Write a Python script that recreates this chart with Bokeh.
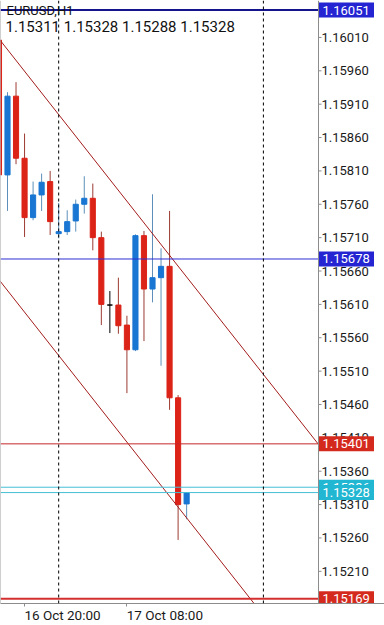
from bokeh.plotting import figure
from bokeh.models import Range1d, FixedTicker, Span, Label, ColumnDataSource
from bokeh.core.properties import value
from bokeh.embed import file_html
from bokeh.resources import INLINE

# ---------------- data ----------------
symbol = "EURUSD,H1"
bar_index = list(range(23))
opens  = [1.16006, 1.15804, 1.15922, 1.15829, 1.15740, 1.15774, 1.15794, 1.15716, 1.15719, 1.15735, 1.15760, 1.15769,
          1.15710, 1.15609, 1.15609, 1.15579, 1.15542, 1.15713, 1.15633, 1.15650, 1.15667, 1.15470, 1.15311]
highs  = [1.16018, 1.15928, 1.15943, 1.15866, 1.15794, 1.15806, 1.15810, 1.15762, 1.15751, 1.15767, 1.15802, 1.15791,
          1.15719, 1.15630, 1.15650, 1.15593, 1.15715, 1.15720, 1.15775, 1.15694, 1.15750, 1.15474, 1.15328]
lows   = [1.15796, 1.15750, 1.15820, 1.15711, 1.15736, 1.15750, 1.15714, 1.15709, 1.15714, 1.15719, 1.15746, 1.15691,
          1.15579, 1.15567, 1.15566, 1.15477, 1.15540, 1.15555, 1.15613, 1.15518, 1.15452, 1.15257, 1.15288]
closes = [1.15804, 1.15922, 1.15829, 1.15740, 1.15774, 1.15793, 1.15734, 1.15719, 1.15734, 1.15760, 1.15769, 1.15710,
          1.15610, 1.15609, 1.15578, 1.15542, 1.15713, 1.15633, 1.15650, 1.15667, 1.15470, 1.15310, 1.15328]

y_ticks = [1.15210, 1.15260, 1.15310, 1.15360, 1.15410, 1.15460, 1.15510, 1.15560, 1.15610,
           1.15660, 1.15710, 1.15760, 1.15810, 1.15860, 1.15910, 1.15960, 1.16010]
x_tick_index = [3, 15]
x_tick_labels = ["16 Oct 20:00", "17 Oct 08:00"]
day_separators = [7, 31]

level_prices = [1.16051, 1.15678, 1.15401, 1.15336, 1.15328, 1.15169]

trend_x = [0, 40]
trend_upper = [1.16008, 1.15359]
channel_width = 0.00361

# ---------------- styles ----------------
level_line_colors = ["#14148c", "#2e2ed6", "#c62828", "#45bfd4", "#45bfd4", "#d32f2f"]
level_line_widths = [2, 1, 1, 1, 1, 2]
tag_fill = ["#2424d2", "#2424d2", "#d42a1e", "#21b6d1", "#21b6d1", "#d42a1e"]
UP, DOWN, FLAT = "#1976d2", "#dc2318", "#000000"
UP_WICK, DOWN_WICK = "#5d8fba", "#9c3b32"
AXIS_GRAY = "#8c8c8c"
FONT = "Roboto"

# pixel helpers (frame geometry)
BAR_PX = 8.53
def ix(px):
    return 1 + (px - 7) / BAR_PX
def pr(py):
    return 1.16010 - (py - 37) * 0.00001496

W, H = 384, 625
BOTTOM = 21
SCALE_X = 318          # x pixel of the price scale line

p = figure(width=W, height=H, output_backend="svg", toolbar_location=None,
           x_range=Range1d(ix(0), ix(W)), y_range=Range1d(pr(H - BOTTOM), pr(0)),
           y_axis_location=None, min_border_left=0, min_border_right=0,
           min_border_top=0, min_border_bottom=BOTTOM)
p.xgrid.visible = False
p.ygrid.visible = False
p.outline_line_color = None
p.background_fill_color = "white"
p.border_fill_color = "white"

# candles
body_top = [max(o, c) for o, c in zip(opens, closes)]
body_bot = [min(o, c) for o, c in zip(opens, closes)]
body_col = [UP if c > o else (DOWN if c < o else FLAT) for o, c in zip(opens, closes)]
wick_col = [UP_WICK if c > o else (DOWN_WICK if c < o else FLAT) for o, c in zip(opens, closes)]
src = ColumnDataSource(dict(x=bar_index, top=body_top, bottom=body_bot, high=highs, low=lows,
                            col=body_col, wcol=wick_col))
p.segment(x0="x", y0="low", x1="x", y1="high", line_color="wcol", line_width=1, source=src)
p.vbar(x="x", width=0.6, top="top", bottom="bottom", fill_color="col", line_color="col",
       line_width=1, source=src)

# trend channel
p.line(trend_x, trend_upper, line_color="#a31c1c", line_width=1)
p.line(trend_x, [v - channel_width for v in trend_upper], line_color="#a31c1c", line_width=1)

# day separators
for d in day_separators:
    p.add_layout(Span(location=d, dimension="height", line_color="black", line_width=1, line_dash="3 3"))

# price levels (stop at the price scale)
x_left = ix(0)
x_scale = ix(SCALE_X)
lv_src = ColumnDataSource(dict(y=level_prices, c=level_line_colors, w=level_line_widths,
                               x0=[x_left] * len(level_prices), x1=[x_scale] * len(level_prices)))
p.segment(x0="x0", y0="y", x1="x1", y1="y", line_color="c", line_width="w", source=lv_src)

# price scale area on the right
y0r, y1r = p.y_range.start, p.y_range.end
p.quad(left=[x_scale], right=[ix(W + 5)], bottom=[y0r], top=[y1r], fill_color="white", line_color=None)
p.segment(x0=[x_scale], y0=[y0r], x1=[x_scale], y1=[y1r], line_color=AXIS_GRAY, line_width=1)
p.segment(x0=[x_left], y0=[y0r], x1=[x_left], y1=[y1r], line_color="#a0a0a0", line_width=1)
tick_src = ColumnDataSource(dict(y=y_ticks, x0=[x_scale] * len(y_ticks), x1=[ix(SCALE_X + 3)] * len(y_ticks),
                                 xt=[ix(SCALE_X + 3)] * len(y_ticks),
                                 lab=[f"{v:.5f}" for v in y_ticks]))
p.segment(x0="x0", y0="y", x1="x1", y1="y", line_color=AXIS_GRAY, line_width=1, source=tick_src)
p.text(x="xt", y="y", text="lab", text_font=value(FONT), text_font_size="13px", text_color="#1a1a1a",
       text_baseline="middle", text_align="left", source=tick_src)

# price tags on the scale (drawn one by one so later tags cover earlier ones)
for lv, tf in zip(level_prices, tag_fill):
    p.rect(x=[ix(SCALE_X + 28)], y=[lv], width=55, height=15, width_units="screen", height_units="screen",
           fill_color=tf, line_color=None)
    p.text(x=[ix(SCALE_X + 4)], y=[lv], text=[f"{lv:.5f}"], text_font=value(FONT), text_font_size="13px",
           text_color="white", text_baseline="middle", text_align="left")

# x axis
xa = p.xaxis[0]
label_off = 38 / BAR_PX
centers = [round(t + label_off, 2) for t in x_tick_index]
xa.ticker = FixedTicker(ticks=centers, minor_ticks=x_tick_index)
xa.major_label_overrides = {c: s for c, s in zip(centers, x_tick_labels)}
xa.axis_line_color = AXIS_GRAY
xa.major_tick_line_color = None
xa.major_tick_in = 0
xa.major_tick_out = 0
xa.minor_tick_line_color = AXIS_GRAY
xa.minor_tick_in = 0
xa.minor_tick_out = 3
xa.major_label_standoff = 0
xa.major_label_text_font = FONT
xa.major_label_text_font_size = "13.5px"
xa.major_label_text_color = "#1a1a1a"

# header
p.add_layout(Label(x=ix(6), y=pr(10), text=symbol, text_font=FONT, text_font_size="13px",
                   text_color="#111111", text_baseline="middle", text_align="left"))
hdr = " ".join(f"{v:.5f}" for v in [opens[-1], highs[-1], lows[-1], closes[-1]])
p.add_layout(Label(x=ix(5), y=pr(27), text=hdr, text_font=FONT, text_font_size="15px",
                   text_color="#111111", text_baseline="middle", text_align="left"))

open("out.html", "w").write(file_html(p, INLINE))
